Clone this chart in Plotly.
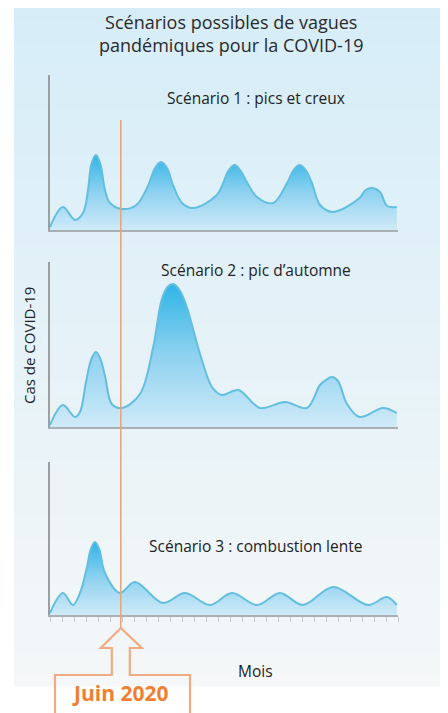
import plotly.graph_objects as go

# page body has an 8px margin: the figure occupies px 8..448 x 8..713
OFF = 8
W, H = 448 - OFF, 713 - OFF

# ---------------- data (months since start, relative case level) ----------------
months_1 = [0, 1.08, 2.08, 2.75, 3.17, 3.45, 3.83, 4.2, 4.58, 5.0, 6.0, 7.2, 8.2, 8.75, 9.25, 9.75,
            10.25, 11.0, 11.9, 13.9, 14.9, 15.4, 15.9, 16.4, 17.25, 18.6, 19.8, 20.3, 20.8, 21.3,
            21.8, 22.5, 23.6, 25.8, 26.3, 26.9, 27.5, 28.1, 28.9]
cases_1 = [3, 23, 10, 17, 40, 66, 75, 66, 40, 27, 21, 25, 45, 62, 68, 62,
           45, 27, 22, 35, 60, 65, 59, 48, 33, 27, 48, 60, 65, 60,
           48, 25, 18, 32, 40, 42, 38, 24, 23]

months_2 = [0, 1.08, 2.08, 2.5, 3.0, 3.45, 3.83, 4.2, 4.6, 5.15, 6.0, 7.5, 8.6, 9.3, 9.8, 10.25,
            10.8, 11.4, 12.5, 13.5, 14.3, 15.7, 17.5, 19.6, 21.4, 22.5, 23.0, 23.5, 24.0, 24.75,
            25.8, 27.75, 28.9]
cases_2 = [2, 22, 10, 15, 45, 68, 75, 68, 50, 23, 19, 33, 80, 127, 140, 143,
           137, 120, 73, 40, 32, 37, 19, 25, 19, 42, 47, 50, 46, 23,
           10, 19, 14]

months_3 = [0, 1.08, 1.9, 2.5, 3.08, 3.4, 3.75, 4.1, 4.58, 5.83, 7.08, 9.4, 11.25, 13.33, 15.17,
            17.25, 19.17, 21.08, 23.6, 26.5, 28.08, 28.9]
cases_3 = [2, 22, 10, 22, 48, 66, 73, 66, 42, 22, 33, 12, 22, 10, 22,
           10, 22, 10, 28, 10, 18, 10]

scenario_labels = ["Scénario 1 : pics et creux",
                   "Scénario 2 : pic d’automne",
                   "Scénario 3 : combustion lente"]
title_lines = ["Scénarios possibles de vagues", "pandémiques pour la COVID-19"]
y_title = "Cas de COVID-19"
x_title = "Mois"
june_label = "Juin 2020"
JUNE_2020 = 5.9          # month position of June 2020
X_RANGE = [0, 29]
TICK_MONTHS = list(range(0, 30))

# ---------------- helpers (page px -> paper) ----------------
def pxx(p):
    return (p - OFF) / W

def pxy(p):
    return 1 - (p - OFF) / H

FONT = "Open Sans"
X_DOM = [pxx(50), pxx(398)]

panel_px = [(75, 230), (262, 427), (462, 615)]
series = [(months_1, cases_1), (months_2, cases_2), (months_3, cases_3)]
label_pos = [(256, 98), (256, 270), (255, 546)]

fig = go.Figure()

layout_axes = {}
for i, ((top, bot), (m, v)) in enumerate(zip(panel_px, series)):
    n = "" if i == 0 else str(i + 1)
    fig.add_trace(go.Scatter(
        x=m, y=v, mode="lines",
        line=dict(shape="spline", smoothing=1.0, color="#63bedf", width=2),
        fill="tozeroy",
        fillgradient=dict(type="vertical",
                          colorscale=[[0, "#cfeaf8"], [0.5, "#8fd2f0"], [1, "#2fb4e6"]],
                          start=0, stop=max(v)),
        xaxis="x" + n, yaxis="y" + n, hoverinfo="skip", showlegend=False,
    ))
    is_last = i == 2
    layout_axes["xaxis" + n] = dict(
        domain=X_DOM, range=X_RANGE, anchor="y" + n,
        showline=True, linecolor="#a8b0b4", linewidth=1.5,
        showgrid=False, zeroline=False, showticklabels=False,
        ticks="outside" if is_last else "", tickmode="array",
        tickvals=TICK_MONTHS if is_last else [], ticklen=5,
        tickcolor="#c3cbd0", tickwidth=1, fixedrange=True,
    )
    layout_axes["yaxis" + n] = dict(
        domain=[pxy(bot), pxy(top)], range=[0, bot - top], anchor="x" + n,
        showline=True, linecolor="#9a9fa2", linewidth=1.5,
        showgrid=False, zeroline=False, showticklabels=False, ticks="",
        fixedrange=True,
    )

# ---------------- background gradient panel ----------------
shapes = []
top_c = (214, 237, 248)
bot_c = (245, 247, 248)
y0p, y1p = 8, 686
N = 60
for k in range(N):
    t = k / (N - 1)
    c = tuple(int(round(a + (b - a) * t)) for a, b in zip(top_c, bot_c))
    ya = y0p + (y1p - y0p) * k / N
    yb = y0p + (y1p - y0p) * (k + 1) / N + 0.6
    shapes.append(dict(type="rect", xref="paper", yref="paper",
                       x0=pxx(14), x1=pxx(443), y0=pxy(yb), y1=pxy(ya),
                       fillcolor="rgb(%d,%d,%d)" % c, line=dict(width=0), layer="below"))

# ---------------- June 2020 marker ----------------
xj_paper = X_DOM[0] + (JUNE_2020 - X_RANGE[0]) / (X_RANGE[1] - X_RANGE[0]) * (X_DOM[1] - X_DOM[0])
xj = xj_paper * W + OFF
shapes.append(dict(type="line", xref="paper", yref="paper",
                   x0=xj_paper, x1=xj_paper, y0=pxy(120), y1=pxy(628),
                   line=dict(color="#e9a67c", width=1.6), layer="above"))

pts = [(55, 725), (55, 675), (xj - 9, 675), (xj - 9, 648), (xj - 20, 648), (xj, 628),
       (xj + 21, 648), (xj + 9, 648), (xj + 9, 675), (190, 675), (190, 725)]
path = "M " + " L ".join("%.5f,%.5f" % (pxx(a), pxy(b)) for a, b in pts)
shapes.append(dict(type="path", xref="paper", yref="paper", path=path,
                   line=dict(color="#f1ab82", width=2.2), layer="above"))

# ---------------- annotations ----------------
ann = []
ann.append(dict(text="<br>".join(title_lines), x=pxx(231), y=pxy(33.5), xref="paper", yref="paper",
                showarrow=False, xanchor="center", yanchor="middle", align="center",
                font=dict(family=FONT, size=18, color="#2a2a2a")))
for lab, (lx, ly) in zip(scenario_labels, label_pos):
    ann.append(dict(text=lab, x=pxx(lx), y=pxy(ly), xref="paper", yref="paper",
                    showarrow=False, xanchor="center", yanchor="middle",
                    font=dict(family=FONT, size=15.5, color="#222222")))
ann.append(dict(text=y_title, x=pxx(29), y=pxy(346), xref="paper", yref="paper",
                showarrow=False, textangle=-90, xanchor="center", yanchor="middle",
                font=dict(family=FONT, size=15, color="#222222")))
ann.append(dict(text=x_title, x=pxx(256), y=pxy(671), xref="paper", yref="paper",
                showarrow=False, xanchor="center", yanchor="middle",
                font=dict(family=FONT, size=15.5, color="#222222")))
ann.append(dict(text="<b>%s</b>" % june_label, x=pxx(120), y=pxy(693), xref="paper", yref="paper",
                showarrow=False, xanchor="center", yanchor="middle",
                font=dict(family=FONT, size=21, color="#ef7f32")))

fig.update_layout(
    width=W, height=H, margin=dict(l=0, r=0, t=0, b=0),
    paper_bgcolor="white", plot_bgcolor="rgba(0,0,0,0)",
    shapes=shapes, annotations=ann, showlegend=False,
    **layout_axes,
)

fig.write_html("out.html")
